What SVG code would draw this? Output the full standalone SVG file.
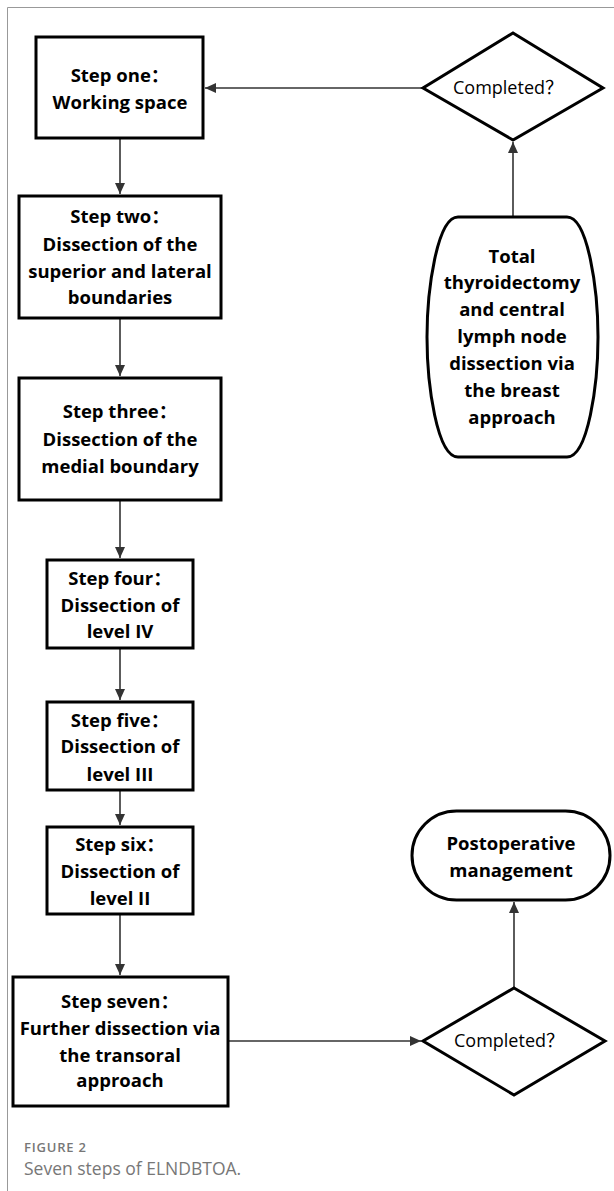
<svg xmlns="http://www.w3.org/2000/svg" width="614" height="1191" viewBox="0 0 614 1191">
<style>
.box{fill:#fff;stroke:#000;stroke-width:3}
.t{font-family:"Open Sans","Liberation Sans","Noto Sans CJK SC",sans-serif;font-weight:bold;font-size:18.5px;fill:#000;text-anchor:middle}
.d{font-family:"Open Sans","Liberation Sans","Noto Sans CJK SC",sans-serif;font-size:18px;fill:#000;text-anchor:middle}
.c{stroke:#333;stroke-width:1.6;fill:none;marker-end:url(#ah)}
.cap{font-family:"Open Sans","Liberation Sans",sans-serif;fill:#777}
</style>
<defs>
<marker id="ah" markerWidth="12" markerHeight="12" refX="11" refY="5.5" orient="auto" markerUnits="userSpaceOnUse">
<path d="M0,0.5 L11,5.5 L0,10.5 Z" fill="#333"/>
</marker>
</defs>
<rect width="614" height="1191" fill="#fff"/>
<g id="frame" stroke="#999" stroke-width="1">
<line x1="7.5" y1="7.5" x2="614" y2="7.5"/>
<line x1="7.5" y1="7.5" x2="7.5" y2="1191"/>
</g>
<g id="connectors">
<line class="c" x1="423" y1="88" x2="205" y2="88"/>
<line class="c" x1="120" y1="138" x2="120" y2="194"/>
<line class="c" x1="120" y1="318" x2="120" y2="376"/>
<line class="c" x1="120" y1="500" x2="120" y2="558"/>
<line class="c" x1="120" y1="648" x2="120" y2="700"/>
<line class="c" x1="120" y1="790" x2="120" y2="825"/>
<line class="c" x1="120" y1="914" x2="120" y2="975"/>
<line class="c" x1="513" y1="217" x2="513" y2="142"/>
<line class="c" x1="228" y1="1041" x2="421" y2="1041"/>
<line class="c" x1="514" y1="988" x2="514" y2="902"/>
</g>
<g id="step1">
<rect class="box" x="36" y="37" width="167" height="101"/>
<text class="t" x="120" y="82">Step one：</text>
<text class="t" x="120" y="109">Working space</text>
</g>
<g id="decision1">
<polygon points="513,33 603,88 513,140 423,88" fill="#fff" stroke="#000" stroke-width="3"/>
<text class="d" x="508" y="94">Completed？</text>
</g>
<g id="step2">
<rect class="box" x="19" y="196" width="202" height="122"/>
<text class="t" x="120" y="223">Step two：</text>
<text class="t" x="120" y="251">Dissection of the</text>
<text class="t" x="120" y="278">superior and lateral</text>
<text class="t" x="120" y="304">boundaries</text>
</g>
<g id="step3">
<rect class="box" x="19" y="378" width="202" height="122"/>
<text class="t" x="120" y="418">Step three：</text>
<text class="t" x="120" y="446">Dissection of the</text>
<text class="t" x="120" y="473">medial boundary</text>
</g>
<g id="step4">
<rect class="box" x="47" y="560" width="146" height="88"/>
<text class="t" x="120" y="585">Step four：</text>
<text class="t" x="120" y="612">Dissection of</text>
<text class="t" x="120" y="638">level IV</text>
</g>
<g id="step5">
<rect class="box" x="47" y="702" width="146" height="88"/>
<text class="t" x="120" y="727">Step five：</text>
<text class="t" x="120" y="753">Dissection of</text>
<text class="t" x="120" y="781">level III</text>
</g>
<g id="step6">
<rect class="box" x="47" y="827" width="146" height="87"/>
<text class="t" x="120" y="851">Step six：</text>
<text class="t" x="120" y="878">Dissection of</text>
<text class="t" x="120" y="905">level II</text>
</g>
<g id="step7">
<rect class="box" x="13" y="977" width="215" height="129"/>
<text class="t" x="120" y="1008">Step seven：</text>
<text class="t" x="120" y="1035">Further dissection via</text>
<text class="t" x="120" y="1062">the transoral</text>
<text class="t" x="120" y="1087">approach</text>
</g>
<g id="thyroidectomy">
<path d="M458,217 H567 C588,217 598,290 598,337 C598,385 588,457 567,457 H458 C437,457 427,385 427,337 C427,290 437,217 458,217 Z" fill="#fff" stroke="#000" stroke-width="3"/>
<text class="t" x="512" y="263">Total</text>
<text class="t" x="512" y="289">thyroidectomy</text>
<text class="t" x="512" y="316">and central</text>
<text class="t" x="512" y="343">lymph node</text>
<text class="t" x="512" y="370">dissection via</text>
<text class="t" x="512" y="397">the breast</text>
<text class="t" x="512" y="424">approach</text>
</g>
<g id="decision2">
<polygon points="514,988 605,1041 514,1095 423,1041" fill="#fff" stroke="#000" stroke-width="3"/>
<text class="d" x="509" y="1047">Completed？</text>
</g>
<g id="postop">
<rect class="box" x="412" y="811" width="198" height="89" rx="44.5" ry="44.5"/>
<text class="t" x="511" y="850">Postoperative</text>
<text class="t" x="511" y="877">management</text>
</g>
<g id="caption">
<text class="cap" x="24" y="1152" font-size="13" font-weight="600" letter-spacing="0.8">FIGURE 2</text>
<text class="cap" x="24" y="1175" font-size="17.5">Seven steps of ELNDBTOA.</text>
</g>
</svg>
